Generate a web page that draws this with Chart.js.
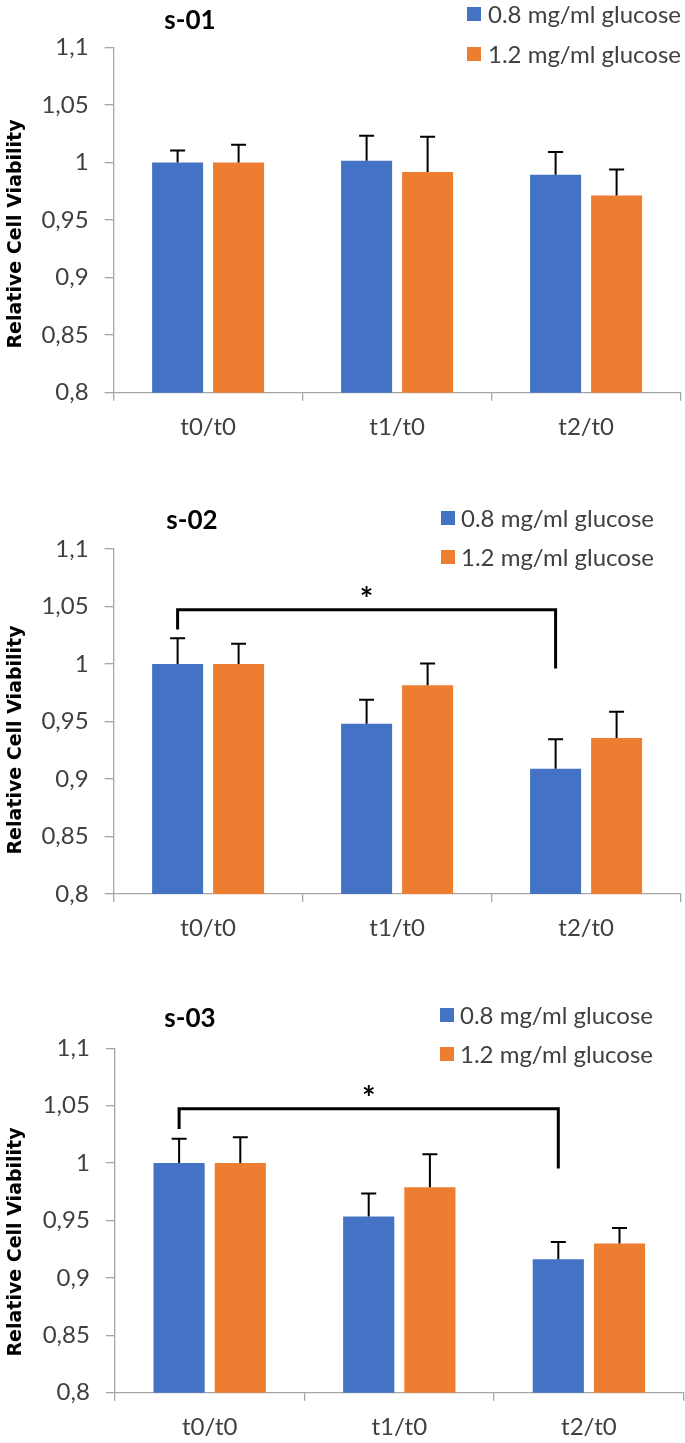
<!DOCTYPE html>
<html><head><meta charset="utf-8">
<script src="https://cdn.jsdelivr.net/npm/chart.js@4.4.1/dist/chart.umd.min.js"></script>
<style>
html,body{margin:0;padding:0;background:#fff;width:685px;height:1443px;overflow:hidden}
canvas{position:absolute;left:0}
</style></head><body>
<canvas id="c1" width="685" height="480" style="top:0px;width:685px;height:480px"></canvas>
<canvas id="c2" width="685" height="490" style="top:480px;width:685px;height:490px"></canvas>
<canvas id="c3" width="685" height="473" style="top:970px;width:685px;height:473px"></canvas>
<script>
// ---- data ----
const categories = ['t0/t0', 't1/t0', 't2/t0'];
const seriesNames = ['0.8 mg/ml glucose', '1.2 mg/ml glucose'];
const yTickValues = [0.8, 0.85, 0.9, 0.95, 1.0, 1.05, 1.1];
const yTickLabels = ['0,8', '0,85', '0,9', '0,95', '1', '1,05', '1,1'];
const yAxisTitle = 'Relative Cell Viability';
const chartTitles = ['s-01', 's-02', 's-03'];
const sigMark = '*';

const s01Low = [1.0, 1.0015, 0.9893];
const s01LowErr = [0.0104, 0.0217, 0.0197];
const s01High = [1.0, 0.9916, 0.9713];
const s01HighErr = [0.0154, 0.0307, 0.0226];

const s02Low = [1.0, 0.948, 0.909];
const s02LowErr = [0.0225, 0.021, 0.0255];
const s02High = [1.0, 0.9815, 0.9357];
const s02HighErr = [0.0177, 0.019, 0.0228];
const s02Bracket = [1.030, 1.0471, 0.996]; // left end, top, right end

const s03Low = [1.0, 0.9535, 0.9163];
const s03LowErr = [0.0212, 0.020, 0.015];
const s03High = [1.0, 0.979, 0.930];
const s03HighErr = [0.0226, 0.0288, 0.0135];
const s03Bracket = [1.0296, 1.0473, 0.9954];

// ---- styling ----
const BLUE = '#4472C4', ORANGE = '#ED7D31';
const AXIS = '#a6a6a6', TEXT = '#404040';
const FONT = 'Lato';

const annot = {
  id: 'annot',
  afterDatasetsDraw(chart, args, o) {
    const ctx = chart.ctx, ys = chart.scales.y;
    ctx.save();
    // error bars
    ctx.strokeStyle = '#000'; ctx.lineWidth = 2;
    chart.data.datasets.forEach((ds, i) => {
      const meta = chart.getDatasetMeta(i);
      meta.data.forEach((bar, j) => {
        const top = ys.getPixelForValue(ds.data[j] + ds.errors[j]);
        ctx.beginPath();
        ctx.moveTo(bar.x, bar.y); ctx.lineTo(bar.x, top);
        ctx.moveTo(bar.x - 7.5, top); ctx.lineTo(bar.x + 7.5, top);
        ctx.stroke();
      });
    });
    // significance bracket
    if (o.bracket) {
      const m = chart.getDatasetMeta(0);
      const xl = m.data[0].x, xr = m.data[2].x;
      const py = o.bracket.map(v => ys.getPixelForValue(v));
      ctx.lineWidth = 3; ctx.lineJoin = 'miter'; ctx.lineCap = 'butt';
      ctx.beginPath();
      ctx.moveTo(xl, py[0]); ctx.lineTo(xl, py[1]); ctx.lineTo(xr, py[1]); ctx.lineTo(xr, py[2]);
      ctx.stroke();
      ctx.fillStyle = '#000';
      ctx.font = 'bold 32px ' + FONT;
      ctx.textAlign = 'center'; ctx.textBaseline = 'alphabetic';
      ctx.fillText(sigMark, (xl + xr) / 2, py[1] + 1);
    }
    ctx.restore();
  },
  afterDraw(chart, args, o) {
    const ctx = chart.ctx;
    ctx.save();
    // title
    ctx.fillStyle = '#000';
    ctx.font = 'bold 26px ' + FONT;
    ctx.textAlign = 'center'; ctx.textBaseline = 'middle';
    ctx.fillText(o.title, o.titleX, o.titleY);
    // y axis title
    ctx.save();
    ctx.translate(16, o.yTitleY);
    ctx.rotate(-Math.PI / 2);
    ctx.font = 'bold 19px "DejaVu Sans"';
    ctx.fillStyle = '#000';
    ctx.textAlign = 'center'; ctx.textBaseline = 'middle';
    ctx.fillText(yAxisTitle, 0, 0);
    ctx.restore();
    // legend
    ctx.font = '24px ' + FONT;
    ctx.textAlign = 'left'; ctx.textBaseline = 'middle';
    chart.data.datasets.forEach((ds, i) => {
      const ry = o.legendRows[i];
      ctx.fillStyle = ds.backgroundColor;
      ctx.fillRect(o.legendX, ry - 7, 14, 14);
      ctx.fillStyle = TEXT;
      ctx.fillText(ds.label, o.legendTextX, ry + 1);
    });
    ctx.restore();
  }
};

function build(id, cfg) {
  return new Chart(document.getElementById(id), {
    type: 'bar',
    data: {
      labels: categories,
      datasets: [
        { label: seriesNames[0], data: cfg.low, errors: cfg.lowErr, backgroundColor: BLUE },
        { label: seriesNames[1], data: cfg.high, errors: cfg.highErr, backgroundColor: ORANGE }
      ]
    },
    options: {
      responsive: false, animation: false, devicePixelRatio: 1,
      layout: { padding: { top: cfg.padTop, right: cfg.padRight, left: 0, bottom: 0 } },
      datasets: { bar: { categoryPercentage: 0.6455, barPercentage: 0.836 } },
      plugins: {
        legend: { display: false }, tooltip: { enabled: false }, title: { display: false },
        annot: cfg.annot
      },
      scales: {
        x: {
          grid: { display: true, offset: true, drawOnChartArea: false, drawTicks: true, tickLength: 8, color: AXIS, lineWidth: 1.3 },
          border: { display: true, color: AXIS, width: 1.3 },
          ticks: { color: TEXT, font: { family: FONT, size: 24 }, padding: 12, maxRotation: 0, autoSkip: false },
          afterFit: s => { s.height = cfg.xHeight; }
        },
        y: {
          min: 0.8, max: 1.1,
          afterBuildTicks: s => { s.ticks = yTickValues.map(v => ({ value: v })); },
          grid: { display: true, drawOnChartArea: false, drawTicks: true, tickLength: 9, color: AXIS, lineWidth: 1.3 },
          border: { display: true, color: AXIS, width: 1.3 },
          ticks: { color: TEXT, font: { family: FONT, size: 24 }, padding: 16, callback: (v, i) => yTickLabels[i] },
          afterFit: s => { s.width = cfg.yWidth; }
        }
      }
    },
    plugins: [annot]
  });
}

function go() {
  build('c1', {
    low: s01Low, lowErr: s01LowErr, high: s01High, highErr: s01HighErr,
    padTop: 47.3, padRight: 4.4, yWidth: 113.6, xHeight: 87.3,
    annot: { title: chartTitles[0], titleX: 190, titleY: 21, yTitleY: 234,
             legendX: 467, legendTextX: 488, legendRows: [14, 54] }
  });
  build('c2', {
    low: s02Low, lowErr: s02LowErr, high: s02High, highErr: s02HighErr,
    padTop: 69, padRight: 4.4, yWidth: 113.6, xHeight: 76,
    annot: { title: chartTitles[1], titleX: 192, titleY: 41, yTitleY: 260,
             legendX: 441, legendTextX: 461, legendRows: [38, 77], bracket: s02Bracket }
  });
  build('c3', {
    low: s03Low, lowErr: s03LowErr, high: s03High, highErr: s03HighErr,
    padTop: 78.3, padRight: 1.3, yWidth: 114.9, xHeight: 50.3,
    annot: { title: chartTitles[2], titleX: 190, titleY: 49, yTitleY: 272,
             legendX: 440, legendTextX: 460, legendRows: [45, 84], bracket: s03Bracket }
  });
}
Promise.all([
  document.fonts.load('24px Lato'), document.fonts.load('bold 24px Lato'),
  document.fonts.load('bold 19px "DejaVu Sans"')
]).then(go, go);
</script></body></html>
